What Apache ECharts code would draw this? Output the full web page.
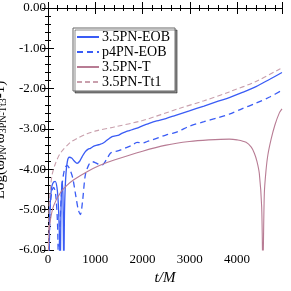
<!DOCTYPE html>
<html><head><meta charset="utf-8">
<script src="https://cdn.jsdelivr.net/npm/echarts@6/dist/echarts.min.js"></script>
<style>html,body{margin:0;padding:0;background:#fff}#c{width:291px;height:291px}</style>
</head><body><div id="c"></div>
<script>
const seriesNames = ["3.5PN-EOB", "p4PN-EOB", "3.5PN-T", "3.5PN-Tt1"];
const eob35 = [[15,-6.5],[40,-5.0],[70,-4.5],[100,-4.35],[150,-4.3],[190,-4.45],[220,-4.9],[245,-5.8],[258,-6.5],[275,-5.0],[295,-4.3],[315,-4.6],[335,-6.5],[350,-5.0],[375,-4.2],[410,-3.8],[450,-3.7],[500,-3.72],[560,-3.8],[615,-3.85],[670,-3.8],[720,-3.69],[790,-3.56],[850,-3.5],[897,-3.48],[960,-3.43],[1040,-3.4],[1100,-3.38],[1150,-3.36],[1215,-3.31],[1290,-3.24],[1356,-3.19],[1420,-3.17],[1500,-3.15],[1560,-3.11],[1640,-3.07],[1720,-3.04],[1800,-3.01],[1885,-2.98],[1960,-2.94],[2050,-2.9],[2140,-2.86],[2300,-2.8],[2493,-2.74],[2700,-2.66],[2990,-2.55],[3300,-2.43],[3600,-2.31],[3835,-2.22],[4100,-2.1],[4400,-1.95],[4700,-1.76],[4950,-1.6]];
const p4eob = [[20,-6.5],[45,-5.0],[80,-4.55],[120,-4.45],[160,-4.6],[200,-5.3],[225,-6.5],[250,-5.5],[290,-4.5],[340,-4.05],[400,-3.9],[450,-3.97],[520,-4.2],[580,-4.6],[640,-5.0],[685,-5.12],[730,-4.8],[790,-4.14],[862,-3.89],[932,-3.81],[1010,-3.84],[1080,-3.88],[1145,-3.89],[1250,-3.73],[1320,-3.6],[1390,-3.56],[1460,-3.55],[1540,-3.52],[1640,-3.47],[1780,-3.4],[1885,-3.33],[2000,-3.35],[2100,-3.31],[2210,-3.27],[2350,-3.21],[2493,-3.15],[2650,-3.1],[2775,-3.05],[2990,-2.93],[3300,-2.82],[3600,-2.72],[3835,-2.63],[4100,-2.5],[4400,-2.36],[4700,-2.2],[4950,-2.04]];
const pnT = [[3,-6.5],[20,-5.6],[50,-5.26],[120,-4.9],[262,-4.58],[400,-4.4],[545,-4.26],[826,-4.06],[1100,-3.9],[1400,-3.77],[2000,-3.55],[2500,-3.4],[2990,-3.31],[3400,-3.27],[3835,-3.25],[4000,-3.27],[4190,-3.33],[4300,-3.45],[4365,-3.6],[4420,-3.8],[4470,-4.1],[4520,-4.93],[4545,-6.5],[4576,-4.6],[4610,-4.05],[4650,-3.65],[4720,-3.25],[4800,-2.9],[4894,-2.6],[4950,-2.5]];
const pnTt1 = [[3,-6.5],[20,-5.0],[57,-4.4],[90,-4.12],[150,-3.88],[262,-3.6],[473,-3.33],[622,-3.23],[826,-3.12],[1040,-3.04],[1400,-2.95],[2000,-2.79],[2775,-2.49],[3300,-2.3],[3835,-2.08],[4400,-1.82],[4894,-1.52],[4950,-1.49]];
const xTicks = [0, 1000, 2000, 3000, 4000];
const yTicks = [0, -1, -2, -3, -4, -5, -6];

const blue = '#3a5cf5', pink = '#b87c94', pinkL = '#c9a0ad';
const font = 'Liberation Serif';
const axisCommon = {
  axisLine: { lineStyle: { color: '#000', width: 1 } },
  axisTick: { inside: true, length: 6, lineStyle: { color: '#000' } },
  minorTick: { show: true, splitNumber: 5, length: 3, lineStyle: { color: '#000' } },
  splitLine: { show: false }
};
const chart = echarts.init(document.getElementById('c'));
chart.setOption({
  animation: false,
  backgroundColor: '#fff',
  grid: { left: 48, right: 9, top: 8, bottom: 41, containLabel: false, outerBoundsMode: 'none' },
  legend: {
    orient: 'vertical', left: 73, top: 28,
    data: seriesNames,
    itemWidth: 22, itemHeight: 10, itemGap: 1,
    padding: [2, 5, 2, 3],
    itemStyle: { opacity: 0, borderWidth: 0 },
    backgroundColor: '#fff', borderColor: '#666', borderWidth: 1,
    shadowColor: 'rgba(0,0,0,0.45)', shadowOffsetX: 2, shadowOffsetY: 2, shadowBlur: 0,
    textStyle: { fontFamily: font, fontSize: 14, color: '#000', padding: [0,0,0,-2] }
  },
  xAxis: [{
    type: 'value', min: 0, max: 4950, interval: 1000, position: 'bottom',
    ...axisCommon,
    axisLabel: { showMaxLabel: false, fontFamily: font, fontSize: 13, color: '#000', margin: 3,
      formatter: v => xTicks.includes(v) ? String(v) : '' },
    name: 't/M', nameLocation: 'middle', nameGap: 17,
    nameTextStyle: { fontFamily: font, fontStyle: 'italic', fontSize: 15, color: '#000' }
  }, {
    type: 'value', min: 0, max: 4950, interval: 1000, position: 'top',
    ...axisCommon, axisLabel: { show: false }
  }],
  yAxis: [{
    type: 'value', min: -6, max: 0, interval: 1, position: 'left',
    ...axisCommon,
    axisLabel: { fontFamily: font, fontSize: 13, color: '#000', margin: 2,
      formatter: v => yTicks.includes(v) ? v.toFixed(2) : '' },
    name: '{b|Log(ω}{s|PN}{b|/ω}{s|3PN-Tt3}{b|-1)}', nameLocation: 'middle', nameGap: 39, nameRotate: 90,
    nameTextStyle: { padding: [0, 22, 0, 0], rich: {
      b: { fontFamily: font, fontSize: 15, lineHeight: 16, color: '#000' },
      s: { fontFamily: font, fontSize: 10, lineHeight: 16, color: '#000', verticalAlign: 'bottom' }
    } }
  }, {
    type: 'value', min: -6, max: 0, interval: 1, position: 'right',
    ...axisCommon, axisLabel: { show: false }
  }],
  series: [
    { name: seriesNames[0], type: 'line', data: eob35, showSymbol: false, symbol: 'none', smooth: 0.3, lineStyle: { color: blue, width: 1.3 }, itemStyle: { color: blue } },
    { name: seriesNames[1], type: 'line', data: p4eob, showSymbol: false, symbol: 'none', smooth: 0.3, lineStyle: { color: blue, width: 1.3, type: [6, 4] }, itemStyle: { color: blue } },
    { name: seriesNames[2], type: 'line', data: pnT, showSymbol: false, symbol: 'none', smooth: 0.3, lineStyle: { color: pink, width: 1.1 }, itemStyle: { color: pink } },
    { name: seriesNames[3], type: 'line', data: pnTt1, showSymbol: false, symbol: 'none', smooth: 0.3, lineStyle: { color: pinkL, width: 1.1, type: [5, 3] }, itemStyle: { color: pinkL } }
  ]
});
</script></body></html>
